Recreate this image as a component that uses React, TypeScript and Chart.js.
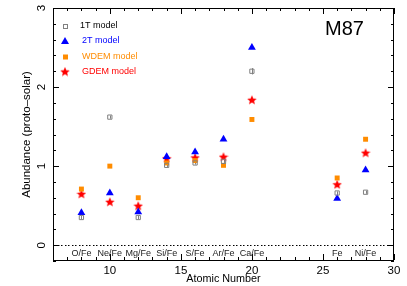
import { useEffect, useRef } from "react";
import { Chart, registerables } from "chart.js";
Chart.register(...registerables);

const elementLabels = ["O/Fe", "Ne/Fe", "Mg/Fe", "Si/Fe", "S/Fe", "Ar/Fe", "Ca/Fe", "Fe", "Ni/Fe"];
const atomicNumbers = [8, 10, 12, 14, 16, 18, 20, 26, 28];
const oneT = [0.35, 1.62, 0.35, 1.01, 1.04, 1.06, 2.2, 0.66, 0.67];
const oneTErr = [0.02, 0.02, 0.02, 0.02, 0.02, 0.02, 0.04, 0.02, 0.02];
const twoT = [0.41, 0.66, 0.42, 1.12, 1.18, 1.34, 2.5, 0.59, 0.95];
const wdem = [0.71, 1.0, 0.6, 1.04, 1.07, 1.01, 1.59, 0.85, 1.34];
const gdem = [0.65, 0.55, 0.5, 1.1, 1.11, 1.12, 1.84, 0.77, 1.17];
const xTicks = [10, 15, 20, 25, 30];
const yTicks = [0, 1, 2, 3];
const legendNames = ["1T model", "2T model", "WDEM model", "GDEM model"];
const titleText = "M87";

const FONT = "'Liberation Sans', Arial, Helvetica, sans-serif";
const GRAY = "#808080";
const BLUE = "#0000ff";
const ORANGE = "#ff8c00";
const RED = "#ff0000";

function makeStar(size: number, color: string) {
  const c = document.createElement("canvas");
  c.width = size;
  c.height = size;
  const ctx = c.getContext("2d")!;
  const cx = size / 2, cy = size / 2 + 0.5, R = size / 2, r = R * 0.45;
  ctx.beginPath();
  for (let i = 0; i < 10; i++) {
    const rad = i % 2 === 0 ? R : r;
    const a = -Math.PI / 2 + (i * Math.PI) / 5;
    ctx.lineTo(cx + rad * Math.cos(a), cy + rad * Math.sin(a));
  }
  ctx.closePath();
  ctx.fillStyle = color;
  ctx.fill();
  return c;
}

export default function App() {
  const ref = useRef<HTMLCanvasElement | null>(null);
  useEffect(() => {
    document.body.style.margin = "0";
    const star = makeStar(10, RED);
    const pts = (vals: number[]) => vals.map((v, i) => ({ x: atomicNumbers[i], y: v }));

    const decor = {
      id: "decor",
      beforeDatasetsDraw(chart: any) {
        const { ctx, chartArea: a, scales } = chart;
        const y0 = Math.round(scales.y.getPixelForValue(0));
        ctx.save();
        ctx.fillStyle = "#000";
        for (let x = a.left + 1; x < a.right - 1; x += 3.5) {
          ctx.fillRect(Math.round(x), y0, 1.5, 1);
        }
        // 1T error bars
        ctx.fillStyle = GRAY;
        oneT.forEach((v, i) => {
          const x = Math.round(scales.x.getPixelForValue(atomicNumbers[i]));
          const yt = scales.y.getPixelForValue(v + oneTErr[i]);
          const yb = scales.y.getPixelForValue(v - oneTErr[i]);
          ctx.fillRect(x, yt, 1, yb - yt);
        });
        ctx.restore();
      },
      afterDraw(chart: any) {
        const { ctx, chartArea: a, scales } = chart;
        const xs = scales.x, ys = scales.y;
        ctx.save();
        ctx.fillStyle = "#000";
        const L = Math.round(a.left), R = Math.round(a.right) - 1;
        const T = Math.round(a.top), B = Math.round(a.bottom) - 1;
        ctx.fillRect(L, T, R - L + 1, 1);
        ctx.fillRect(L, B, R - L + 1, 1);
        ctx.fillRect(L, T, 1, B - T + 1);
        ctx.fillRect(R, T, 1, B - T + 1);
        for (let v = 6; v <= 30; v++) {
          const len = v % 5 === 0 ? 6 : 3;
          const x = Math.round(xs.getPixelForValue(v));
          ctx.fillRect(x, B - len, 1, len);
          ctx.fillRect(x, T, 1, len);
        }
        for (let k = -1; k <= 15; k++) {
          const v = k / 5;
          const len = k % 5 === 0 ? 6 : 3;
          const y = Math.round(ys.getPixelForValue(v));
          ctx.fillRect(L, y, len, 1);
          ctx.fillRect(R - len + 1, y, len, 1);
        }
        // y tick labels (rotated)
        ctx.font = `11.5px ${FONT}`;
        ctx.textAlign = "center";
        ctx.textBaseline = "middle";
        yTicks.forEach((v) => {
          ctx.save();
          ctx.translate(42, ys.getPixelForValue(v));
          ctx.rotate(-Math.PI / 2);
          ctx.fillText(String(v), 0, 0);
          ctx.restore();
        });
        // element labels
        ctx.font = `9px ${FONT}`;
        ctx.fillStyle = "#222";
        elementLabels.forEach((t, i) => {
          ctx.fillText(t, xs.getPixelForValue(atomicNumbers[i]), ys.getPixelForValue(-0.1));
        });
        // title
        ctx.font = `20px ${FONT}`;
        ctx.fillStyle = "#000";
        ctx.textAlign = "left";
        ctx.fillText(titleText, 325, 29);
        // legend
        const lx = 65, tx = 82;
        const rows = [26, 41, 56.5, 71.5];
        const colors = ["#000", BLUE, ORANGE, RED];
        ctx.font = `9px ${FONT}`;
        rows.forEach((y, i) => {
          ctx.fillStyle = colors[i];
          ctx.fillText(legendNames[i], i === 0 ? tx - 2 : tx, y);
        });
        // legend markers
        ctx.strokeStyle = GRAY;
        ctx.lineWidth = 1;
        ctx.strokeRect(lx - 2 + 0.5, rows[0] - 2 + 0.5, 4, 4);
        ctx.fillStyle = BLUE;
        ctx.beginPath();
        ctx.moveTo(lx, rows[1] - 4);
        ctx.lineTo(lx + 4, rows[1] + 3);
        ctx.lineTo(lx - 4, rows[1] + 3);
        ctx.closePath();
        ctx.fill();
        ctx.fillStyle = ORANGE;
        ctx.fillRect(lx - 2, rows[2] - 2, 5, 5);
        ctx.drawImage(star, lx - 5, rows[3] - 5);
        ctx.restore();
      },
    };

    const chart = new Chart(ref.current!, {
      type: "scatter",
      data: {
        datasets: [
          {
            label: legendNames[0],
            data: pts(oneT),
            pointStyle: "rect",
            pointRadius: 3,
            backgroundColor: "rgba(255,255,255,0)",
            borderColor: GRAY,
            borderWidth: 1,
          },
          {
            label: legendNames[2],
            data: pts(wdem),
            pointStyle: "rect",
            pointRadius: 3.5,
            backgroundColor: ORANGE,
            borderColor: ORANGE,
            borderWidth: 0,
          },
          {
            label: legendNames[1],
            data: pts(twoT),
            pointStyle: "triangle",
            pointRadius: 4.5,
            backgroundColor: BLUE,
            borderColor: BLUE,
            borderWidth: 0,
          },
          {
            label: legendNames[3],
            data: pts(gdem),
            pointStyle: star as any,
            pointRadius: 5,
            backgroundColor: RED,
            borderColor: RED,
          },
        ],
      },
      options: {
        animation: false,
        responsive: false,
        events: [],
        layout: { padding: { left: 20, right: 13, top: 8, bottom: 0 } },
        plugins: { legend: { display: false }, tooltip: { enabled: false } },
        scales: {
          x: {
            type: "linear",
            min: 6,
            max: 30,
            afterFit: (s: any) => { s.height = 25; },
            afterBuildTicks: (s: any) => { s.ticks = xTicks.map((v) => ({ value: v })); },
            grid: { display: false, drawTicks: false },
            border: { display: false },
            ticks: { padding: 3, color: "#000", font: { family: FONT, size: 11.5 }, maxRotation: 0, autoSkip: false },
            title: { display: true, text: "Atomic Number", color: "#000", font: { family: FONT, size: 10.8 }, padding: 0 },
          },
          y: {
            type: "linear",
            min: -0.2,
            max: 3,
            afterFit: (s: any) => { s.width = 33; },
            afterBuildTicks: (s: any) => { s.ticks = yTicks.map((v) => ({ value: v })); },
            grid: { display: false, drawTicks: false },
            border: { display: false },
            ticks: { display: false },
            title: { display: true, text: "Abundance (proto–solar)", color: "#000", font: { family: FONT, size: 11.5 }, padding: 0 },
          },
        },
      },
      plugins: [decor],
    });
    return () => chart.destroy();
  }, []);
  return <canvas ref={ref} width={407} height={286} style={{ display: "block" }} />;
}
